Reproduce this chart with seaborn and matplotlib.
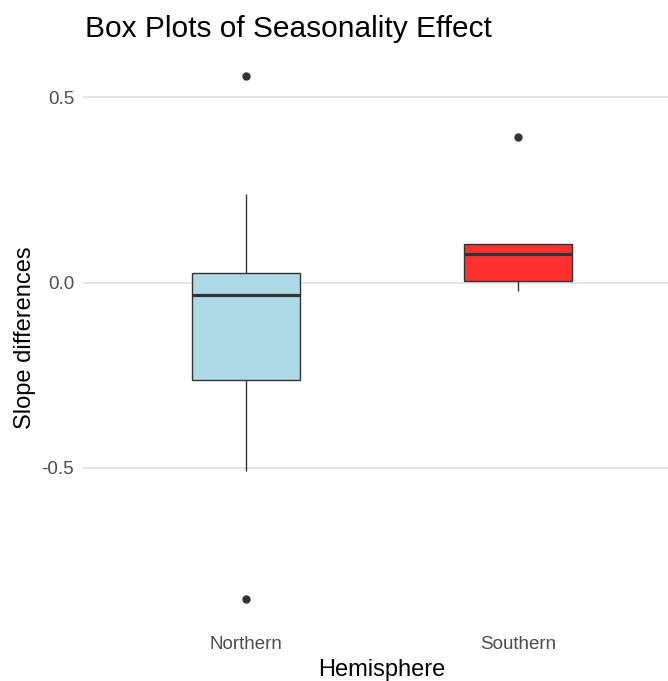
import numpy as np
import pandas as pd
import matplotlib
matplotlib.use("Agg")
import matplotlib.pyplot as plt
import seaborn as sns

# values (slope differences per hemisphere)
hemispheres = ["Northern", "Southern"]
northern = [-0.854, -0.508, -0.262, -0.150, -0.035, 0.000, 0.027, 0.238, 0.557]
southern = [-0.024, 0.000, 0.005, 0.050, 0.076, 0.090, 0.105, 0.105, 0.392]
box_colors = ["#ADD8E6", "#FF3030"]
y_ticks = [-0.5, 0.0, 0.5]
y_tick_labels = ["-0.5", "0.0", "0.5"]

df = pd.DataFrame({
    "Hemisphere": ["Northern"] * len(northern) + ["Southern"] * len(southern),
    "Slope differences": northern + southern,
})

sns.set_style("white")
plt.rcParams["font.family"] = ["Liberation Sans", "DejaVu Sans"]

W, H = 668, 681
fig = plt.figure(figsize=(W / 100, H / 100), dpi=100)
# panel runs past the right edge, as in the (cropped) reference
ax = fig.add_axes([83 / W, (H - 625) / H, 598 / W, 575 / H])

for t in y_ticks:
    ax.axhline(t, color="#DEDEDE", lw=1.1, zorder=0)

sns.boxplot(data=df, x="Hemisphere", y="Slope differences", hue="Hemisphere",
            order=hemispheres, hue_order=hemispheres, palette=box_colors,
            legend=False, width=0.4, linecolor="#333333", linewidth=1.0,
            whis=1.5, showcaps=False, saturation=1, ax=ax,
            flierprops=dict(marker="o", markersize=5, markerfacecolor="#333333",
                            markeredgecolor="#333333"),
            medianprops=dict(color="#333333", linewidth=2.3))

ax.set_xlim(-0.6, 1.6)
ax.set_ylim(-0.925, 0.628)
ax.set_yticks(y_ticks)
ax.set_yticklabels(y_tick_labels)
for s in ax.spines.values():
    s.set_visible(False)
ax.grid(False)
ax.tick_params(axis="both", length=3.6, width=0.8, color="#333333",
               labelcolor="#4D4D4D", labelsize=13.5)
ax.tick_params(axis="y", pad=2.8)
ax.tick_params(axis="x", pad=4.5)

ax.set_xlabel("Hemisphere", fontsize=17, color="black", labelpad=4)
ax.set_ylabel("Slope differences", fontsize=17, color="black")
ax.yaxis.set_label_coords(-(83 - 25) / 598, 0.5)
ax.yaxis.label.set_va("center")

fig.text(85 / W, 1 - 37 / H, "Box Plots of Seasonality Effect",
         fontsize=21.5, color="black", ha="left", va="baseline")

fig.savefig("out.png", dpi=100)
